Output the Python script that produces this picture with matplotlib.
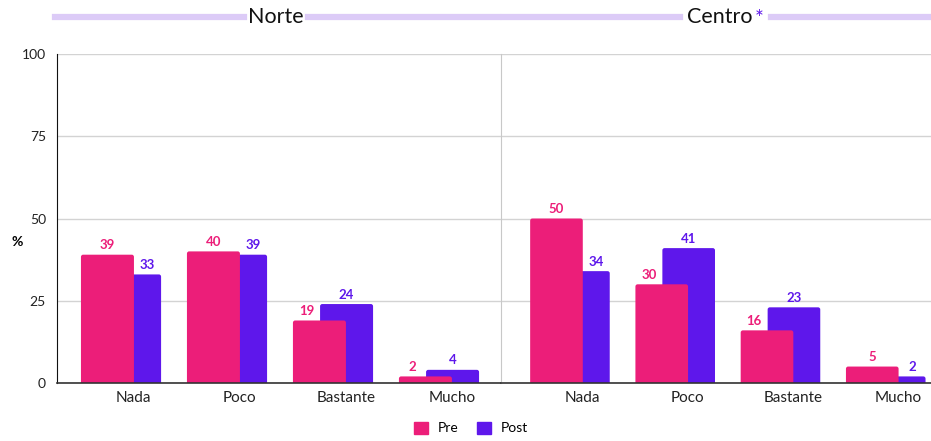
import matplotlib
matplotlib.use("Agg")
import matplotlib.pyplot as plt
from matplotlib.lines import Line2D
from matplotlib.patches import Patch, FancyBboxPatch

plt.rcParams['font.family'] = ['Lato', 'DejaVu Sans']

categories = ["Nada", "Poco", "Bastante", "Mucho"]
regions = ["Norte", "Centro"]
pre_norte = [39, 40, 19, 2]
post_norte = [33, 39, 24, 4]
pre_centro = [50, 30, 16, 5]
post_centro = [34, 41, 23, 2]
yticks = [0, 25, 50, 75, 100]
series_names = ["Pre", "Post"]

PINK = "#EC1E79"
PURPLE = "#5E17EB"
LAV = "#DCCBF7"

W, H = 931, 441
fig = plt.figure(figsize=(W / 100, H / 100), dpi=100)

def fx(px):
    return px / W

def fy(py):
    return 1 - py / H

ax1 = fig.add_axes([fx(57), fy(383), fx(444), fy(54) - fy(383)])
ax2 = fig.add_axes([fx(501), fy(383), fx(430), fy(54) - fy(383)])

data = [(ax1, pre_norte, post_norte, (-0.604, 3.585)),
        (ax2, pre_centro, post_centro, (-0.655, 3.43))]

bw = 0.5
off = 0.128


def round_bars(ax, bars, color, z):
    fig.canvas.draw()
    x0, y0 = ax.transData.transform((0, 0))
    x1, y1 = ax.transData.transform((1, 1))
    sx, sy = x1 - x0, y1 - y0
    r_px = 2.2
    rx = r_px / sx
    aspect = (r_px / sy) / rx
    for b in bars:
        b.set_visible(False)
        x, w, h = b.get_x(), b.get_width(), b.get_height()
        ext = r_px / sy * 2
        p = FancyBboxPatch((x, -ext), w, h + ext,
                           boxstyle=f"round,pad=0,rounding_size={rx}",
                           mutation_aspect=aspect, facecolor=color, edgecolor="none",
                           zorder=z, clip_on=True)
        ax.add_patch(p)
        p.set_clip_path(ax.patch)


for ax, pre, post, xl in data:
    xs = list(range(len(categories)))
    ax.set_xlim(*xl)
    ax.set_ylim(0, 100)
    bpost = ax.bar([x + off for x in xs], post, width=bw, color=PURPLE, zorder=2)
    bpre = ax.bar([x - off for x in xs], pre, width=bw, color=PINK, zorder=3)
    round_bars(ax, bpost, PURPLE, 2)
    round_bars(ax, bpre, PINK, 3)
    for x, a, b in zip(xs, pre, post):
        xa = x - off if a >= b else x - off - bw / 2 + off
        xb = x + off if b > a else x + off + bw / 2 - off
        ax.annotate(str(a), (xa, a), xytext=(0, 2.5), textcoords="offset points",
                    ha="center", va="bottom", color=PINK, fontsize=9.5, fontweight="bold", zorder=5)
        ax.annotate(str(b), (xb, b), xytext=(0, 2.5), textcoords="offset points",
                    ha="center", va="bottom", color=PURPLE, fontsize=9.5, fontweight="bold", zorder=5)
    ax.set_yticks(yticks)
    ax.yaxis.grid(True, color="#D3D3D3", linewidth=1, zorder=0)
    ax.set_axisbelow(True)
    ax.set_xticks([x + 0.12 for x in xs])
    ax.set_xticklabels(categories, fontsize=11, color="#222222")
    ax.tick_params(axis="x", length=0, pad=6)
    ax.spines["top"].set_visible(False)
    ax.spines["right"].set_visible(False)
    ax.spines["bottom"].set_color("#333333")
    ax.spines["bottom"].set_linewidth(1.2)
    ax.spines["bottom"].set_zorder(6)

ax1.spines["left"].set_color("#111111")
ax1.tick_params(axis="y", length=0, labelsize=10, labelcolor="#222222", pad=8)
ax1.set_ylabel("%", rotation=0, fontsize=10, fontweight="bold", va="center")
ax1.yaxis.set_label_coords(-0.09, 0.43)

ax2.spines["left"].set_color("#C8C8C8")
ax2.tick_params(axis="y", length=0, labelleft=False)

# Header lines
ly = fy(17)
for xa, xb in [(55, 244), (308, 498), (504, 680), (771, 930)]:
    fig.add_artist(Line2D([fx(xa), fx(xb)], [ly, ly], color=LAV, linewidth=4.5,
                          transform=fig.transFigure))
fig.text(fx(276), ly, regions[0], ha="center", va="center", fontsize=15.5, color="#111111")
t2 = fig.text(fx(720), ly, regions[1], ha="center", va="center", fontsize=15.5, color="#111111")
fig.canvas.draw()
bb = t2.get_window_extent()
fig.text(bb.x1 / W + fx(1.5), (bb.y1 - 2) / H, "*", ha="left", va="top", fontsize=15, color=PURPLE)

# Legend
handles = [Patch(facecolor=PINK, edgecolor=PINK), Patch(facecolor=PURPLE, edgecolor=PURPLE)]
fig.legend(handles, series_names, loc="center", bbox_to_anchor=(fx(471), fy(428)), ncol=2,
           frameon=False, fontsize=10, handlelength=1.0, handleheight=1.0, columnspacing=1.3,
           handletextpad=0.7)

fig.savefig("out.png", dpi=100)
